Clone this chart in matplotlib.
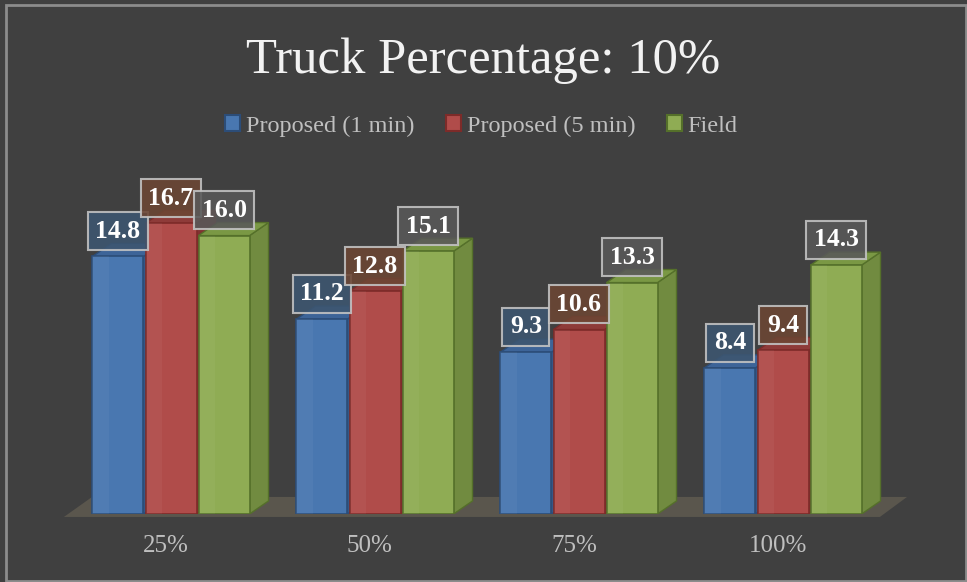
import numpy as np
import matplotlib.pyplot as plt
from matplotlib.patches import Polygon, Patch, Rectangle

plt.rcParams['font.family'] = ['Liberation Serif', 'DejaVu Serif']

categories = ['25%', '50%', '75%', '100%']
series = ['Proposed (1 min)', 'Proposed (5 min)', 'Field']
proposed_1min = [14.8, 11.2, 9.3, 8.4]
proposed_5min = [16.7, 12.8, 10.6, 9.4]
field = [16.0, 15.1, 13.3, 14.3]
values = [proposed_1min, proposed_5min, field]

face = ['#4977b0', '#b04c4a', '#8fac54']
top = ['#3d6498', '#8e3b39', '#7a9844']
side = ['#36598a', '#803331', '#718b40']
edge = ['#2c4d78', '#7d2b29', '#55702a']
label_fill = ['#3d5670', '#6c4634', '#595959']
bg = '#404040'

fig = plt.figure(figsize=(9.67, 5.82), dpi=100, facecolor=bg)
ax = fig.add_axes([0, 68 / 582, 1, 374 / 582])
ax.set_facecolor(bg)
ax.set_xlim(-171 / 204, 796 / 204)
ax.set_ylim(0, 374 / 17.4)
for s in ax.spines.values():
    s.set_visible(False)
ax.set_yticks([])

x = np.arange(len(categories))
width = 0.25
step = 0.26
dx, dy = 0.093, 0.75   # depth of the 3d boxes in data units

# floor slab
fx0, fx1 = x[0] - 0.525, x[-1] + 0.475
ax.add_patch(Polygon([(fx0, -0.17), (fx1, -0.17), (fx1 + 0.133, 0.98), (fx0 + 0.138, 0.98)],
                     closed=True, fc='#5a564d', ec='none', clip_on=False, zorder=1))

z = 2
for gi in range(len(categories)):
    for si in range(3):
        h = values[si][gi]
        x0 = x[gi] + (si - 1) * step - width / 2
        x1 = x0 + width
        # right side face
        ax.add_patch(Polygon([(x1, 0), (x1 + dx, dy), (x1 + dx, h + dy), (x1, h)],
                             closed=True, fc=side[si], ec=edge[si], lw=1, zorder=z))
        # top face
        ax.add_patch(Polygon([(x0, h), (x1, h), (x1 + dx, h + dy), (x0 + dx, h + dy)],
                             closed=True, fc=top[si], ec=edge[si], lw=1, zorder=z))
        # front face
        ax.bar(x0, h, width=width, align='edge', color=face[si], edgecolor=edge[si],
               lw=1.2, zorder=z + 0.1)
        ax.add_patch(Rectangle((x0, 0), width * 0.33, h, fc='white', alpha=0.04,
                               ec='none', zorder=z + 0.2))
        z += 1

# value labels
for gi in range(len(categories)):
    for si in range(3):
        h = values[si][gi]
        xc = x[gi] + (si - 1) * step
        ax.text(xc, h + 1.45, f'{h:.1f}', ha='center', va='center', fontsize=18.5,
                fontweight='bold', color='white', zorder=100,
                bbox=dict(boxstyle='square,pad=0.29', fc=label_fill[si], ec='#c4c4c4',
                          lw=1.5, alpha=0.88))

ax.set_xticks(x - 0.025, categories)
ax.tick_params(axis='x', length=0, pad=15, labelsize=18, labelcolor='#bfbfbf')

fig.text(0.5, 1 - 61 / 582, 'Truck Percentage: 10%', ha='center', va='center',
         fontsize=36.5, color='#f2f2f2')

handles = [Patch(fc=face[i], ec=edge[i], lw=1.5) for i in range(3)]
leg = fig.legend(handles, series, loc='center', bbox_to_anchor=(481.5 / 967, 1 - 126 / 582),
                 ncol=3, frameon=False, fontsize=17.5, handlelength=0.6, handleheight=0.6,
                 handletextpad=0.25, columnspacing=1.3, borderaxespad=0)
for t in leg.get_texts():
    t.set_color('#bfbfbf')

# outer frame line
fig.add_artist(Rectangle((6 / 967, 1 / 582), 960 / 967, 576 / 582, transform=fig.transFigure,
                         fill=False, ec='#8c8c8c', lw=2))

fig.savefig('out.png', dpi=100, facecolor=bg)
